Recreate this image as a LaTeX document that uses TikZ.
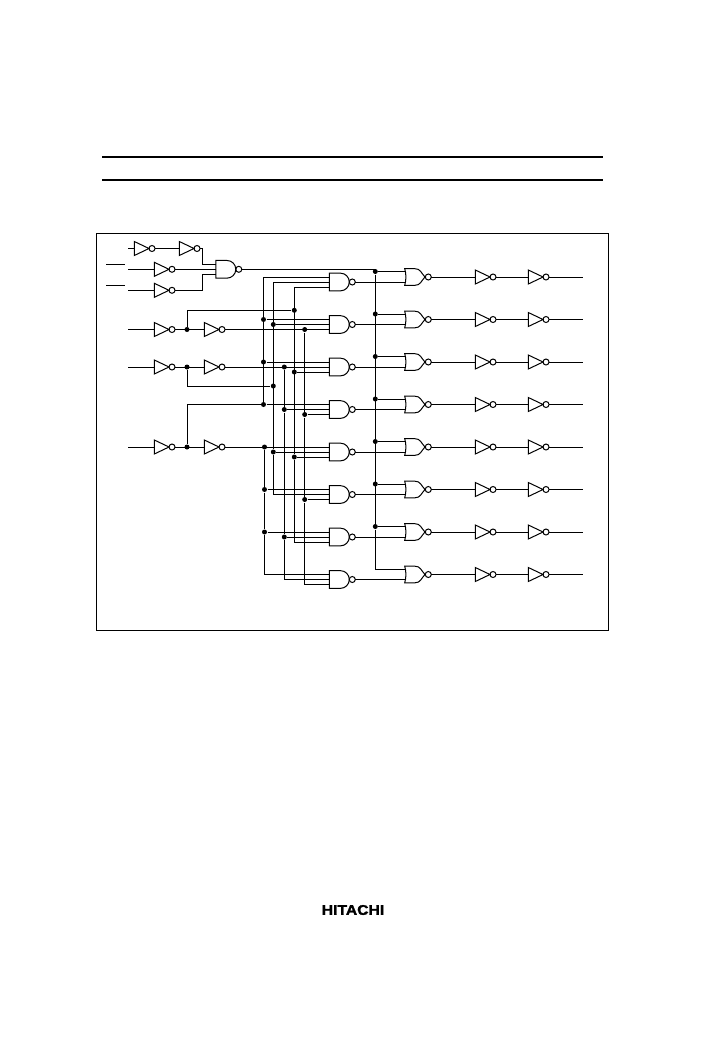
\documentclass[tikz,border=0pt]{standalone}
\usepackage{fontspec}
\setmainfont{Liberation Sans}
\newfontface\logofont[FakeBold=1.6]{Liberation Sans Bold}
\tikzset{
  gatebox/.style={rectangle,inner sep=0pt,outer sep=0pt,anchor=west},
  invgate/.style={gatebox,minimum width=20.7pt,minimum height=14pt,
    append after command={\pgfextra{
      \draw (\tikzlastnode.north west) -- ([xshift=14.7pt]\tikzlastnode.west) -- (\tikzlastnode.south west) -- cycle;
      \draw ([xshift=-3pt]\tikzlastnode.east) circle[radius=3pt];
    }}},
  nandgate/.style={gatebox,minimum width=26pt,minimum height=17.7pt,
    append after command={\pgfextra{
      \draw (\tikzlastnode.south west) -- (\tikzlastnode.north west) -- ++(11.15pt,0pt)
        arc[start angle=90,end angle=-90,radius=8.85pt] -- cycle;
      \draw ([xshift=-3pt]\tikzlastnode.east) circle[radius=3pt];
    }}},
  norgate/.style={gatebox,minimum width=26.6pt,minimum height=16.7pt,
    append after command={\pgfextra{
      \draw (\tikzlastnode.north west) -- ++(10pt,0pt)
        .. controls +(6pt,0pt) and +(-4pt,4pt) .. ([xshift=-6.3pt]\tikzlastnode.east)
        .. controls +(-4pt,-4pt) and +(6pt,0pt) .. ([xshift=10pt]\tikzlastnode.south west)
        -- (\tikzlastnode.south west)
        .. controls +(1.6pt,5pt) and +(1.6pt,-5pt) .. (\tikzlastnode.north west) -- cycle;
      \draw ([xshift=-3pt]\tikzlastnode.east) circle[radius=3pt];
    }}},
  dot/.style={circle,fill=black,inner sep=0pt,minimum size=5pt},
  rulebar/.style={line width=1.6pt},
  upper/.style={yshift=5pt},
  lower/.style={yshift=-5pt},
  trunkup/.style={yshift=5.5pt},
  norup/.style={xshift=1.2pt,yshift=5.5pt},
  nordown/.style={xshift=1.2pt,yshift=-5pt}
}
\begin{document}
\begin{tikzpicture}[x=1pt,y=-1pt,line width=1pt]
\useasboundingbox (0,0) rectangle (705,1060);

% Page rules and frame
\coordinate (ruleAl) at (102,157); \coordinate (ruleAr) at (603,157);
\coordinate (ruleBl) at (102,180); \coordinate (ruleBr) at (603,180);
\draw[rulebar] (ruleAl) -- (ruleAr);
\draw[rulebar] (ruleBl) -- (ruleBr);
\draw (96,233.5) rectangle (608.5,630.5);
\node[font=\fontsize{14}{14}\logofont] (logo) at (353,910) {\scalebox{1.12}[1]{HITACHI}};

% Input inverters
\node[invgate] (inTa) at (134.3,248.5) {};
\node[invgate] (inTb) at (179.3,248.5) {};
\node[invgate] (inU) at (154.3,269.3) {};
\node[invgate] (inV) at (154.3,290.3) {};
\node[invgate] (inAa) at (154.3,329.5) {};
\node[invgate] (inAb) at (204.3,329.5) {};
\node[invgate] (inBa) at (154.3,367) {};
\node[invgate] (inBb) at (204.3,367) {};
\node[invgate] (inCa) at (154.3,447) {};
\node[invgate] (inCb) at (204.3,447) {};

% Enable gate
\node[nandgate] (enable) at (215.8,269.3) {};

% Decoder gates
\node[nandgate] (nandA) at (329.3,282) {};
\node[nandgate] (nandB) at (329.3,324.5) {};
\node[nandgate] (nandC) at (329.3,367) {};
\node[nandgate] (nandD) at (329.3,409.5) {};
\node[nandgate] (nandE) at (329.3,452) {};
\node[nandgate] (nandF) at (329.3,494.5) {};
\node[nandgate] (nandG) at (329.3,537) {};
\node[nandgate] (nandH) at (329.3,579.5) {};

% Output gates
\node[norgate] (norA) at (404.7,277) {};
\node[norgate] (norB) at (404.7,319.5) {};
\node[norgate] (norC) at (404.7,362) {};
\node[norgate] (norD) at (404.7,404.5) {};
\node[norgate] (norE) at (404.7,447) {};
\node[norgate] (norF) at (404.7,489.5) {};
\node[norgate] (norG) at (404.7,532) {};
\node[norgate] (norH) at (404.7,574.5) {};

% Output buffers
\node[invgate] (bufAa) at (475.3,277) {};  \node[invgate] (bufAb) at (528.3,277) {};
\node[invgate] (bufBa) at (475.3,319.5) {}; \node[invgate] (bufBb) at (528.3,319.5) {};
\node[invgate] (bufCa) at (475.3,362) {};  \node[invgate] (bufCb) at (528.3,362) {};
\node[invgate] (bufDa) at (475.3,404.5) {}; \node[invgate] (bufDb) at (528.3,404.5) {};
\node[invgate] (bufEa) at (475.3,447) {};  \node[invgate] (bufEb) at (528.3,447) {};
\node[invgate] (bufFa) at (475.3,489.5) {}; \node[invgate] (bufFb) at (528.3,489.5) {};
\node[invgate] (bufGa) at (475.3,532) {};  \node[invgate] (bufGb) at (528.3,532) {};
\node[invgate] (bufHa) at (475.3,574.5) {}; \node[invgate] (bufHb) at (528.3,574.5) {};

% Bus positions
\coordinate (busP) at (263.5,0);
\coordinate (busQ) at (264.5,0);
\coordinate (busR) at (273.3,0);
\coordinate (busS) at (284.3,0);
\coordinate (busT) at (294.3,0);
\coordinate (busU) at (304.7,0);
\coordinate (busV) at (187,0);
\coordinate (busW) at (375.3,0);

% Input pins and overbars
\coordinate (pinT) at (128.3,248.5);
\coordinate (pinU) at (128.3,269.3);
\coordinate (pinV) at (128.3,290.3);
\coordinate (pinA) at (128.3,329.5);
\coordinate (pinB) at (128.3,367);
\coordinate (pinC) at (128.3,447);
\coordinate (barUl) at (106,264); \coordinate (barUr) at (125,264);
\coordinate (barVl) at (106,285); \coordinate (barVr) at (125,285);
\draw (barUl) -- (barUr);
\draw (barVl) -- (barVr);
\draw (pinT) -- (inTa.west);
\draw (pinU) -- (inU.west);
\draw (pinV) -- (inV.west);
\draw (pinA) -- (inAa.west);
\draw (pinB) -- (inBa.west);
\draw (pinC) -- (inCa.west);

% Enable logic
\draw (inTa.east) -- (inTb.west);
\draw (inTb.east) -- ++(2.6,0) |- ([upper]enable.west);
\draw (inU.east) -- (enable.west);
\draw (inV.east) -- ++(27.3,0) |- ([lower]enable.west);

% True and complement lines
\node[dot] (jAn) at (inAa.east -| busV) {};
\node[dot] (jBn) at (inBa.east -| busV) {};
\node[dot] (jCn) at (inCa.east -| busV) {};
\draw (inAa.east) -- (inAb.west);
\draw (inBa.east) -- (inBb.west);
\draw (inCa.east) -- (inCb.west);

% Junctions on the bus lines
\node[dot] (jTa) at (294.3,310.3) {};
\node[dot] (jRa) at (273.3,386) {};
\node[dot] (jPd) at ([upper]nandD.west -| busP) {};
\draw (jAn) |- (jTa);
\draw (jBn) |- (jRa);
\draw (jCn) |- (jPd);

\node[dot] (jPb) at ([upper]nandB.west -| busP) {};
\node[dot] (jRb) at (nandB.west -| busR) {};
\node[dot] (jUb) at ([lower]nandB.west -| busU) {};
\node[dot] (jPc) at ([upper]nandC.west -| busP) {};
\node[dot] (jSc) at (nandC.west -| busS) {};
\node[dot] (jTc) at ([lower]nandC.west -| busT) {};
\node[dot] (jSd) at (nandD.west -| busS) {};
\node[dot] (jUd) at ([lower]nandD.west -| busU) {};
\node[dot] (jQe) at ([upper]nandE.west -| busQ) {};
\node[dot] (jRe) at (nandE.west -| busR) {};
\node[dot] (jTe) at ([lower]nandE.west -| busT) {};
\node[dot] (jQf) at ([upper]nandF.west -| busQ) {};
\node[dot] (jUf) at ([lower]nandF.west -| busU) {};
\node[dot] (jQg) at ([upper]nandG.west -| busQ) {};
\node[dot] (jSg) at (nandG.west -| busS) {};

% Bus lines, each with the gate that ends it
\draw ([upper]nandA.west) -| (jPd);
\draw (nandA.west) -| (jRe);
\draw (jRe) |- (nandF.west);
\draw ([lower]nandA.west) -| (jTe);
\draw (jTe) |- ([lower]nandG.west);
\draw (jSc) -- (jSd) -- (jSg) |- (nandH.west);
\draw (jUb) -- (jUd) -- (jUf) |- ([lower]nandH.west);
\draw (jQe) -- (jQf) -- (jQg) |- ([upper]nandH.west);

% Gate inputs from the bus lines
\draw (inAb.east) -- ([lower]nandB.west);
\draw (inBb.east) -- (nandC.west);
\draw (inCb.east) -- ([upper]nandE.west);
\draw (jPb) -- ([upper]nandB.west);
\draw (jRb) -- (nandB.west);
\draw (jPc) -- ([upper]nandC.west);
\draw (jTc) -- ([lower]nandC.west);
\draw (jPd) -- ([upper]nandD.west);
\draw (jSd) -- (nandD.west);
\draw (jUd) -- ([lower]nandD.west);
\draw (jRe) -- (nandE.west);
\draw (jTe) -- ([lower]nandE.west);
\draw (jQf) -- ([upper]nandF.west);
\draw (jUf) -- ([lower]nandF.west);
\draw (jQg) -- ([upper]nandG.west);
\draw (jSg) -- (nandG.west);

% Enable trunk
\node[dot] (jWa) at ([trunkup]norA.west -| busW) {};
\node[dot] (jWb) at ([trunkup]norB.west -| busW) {};
\node[dot] (jWc) at ([trunkup]norC.west -| busW) {};
\node[dot] (jWd) at ([trunkup]norD.west -| busW) {};
\node[dot] (jWe) at ([trunkup]norE.west -| busW) {};
\node[dot] (jWf) at ([trunkup]norF.west -| busW) {};
\node[dot] (jWg) at ([trunkup]norG.west -| busW) {};
\draw (enable.east) -| (jWa);
\draw (jWa) -- ([norup]norA.west);
\draw (jWb) -- ([norup]norB.west);
\draw (jWc) -- ([norup]norC.west);
\draw (jWd) -- ([norup]norD.west);
\draw (jWe) -- ([norup]norE.west);
\draw (jWf) -- ([norup]norF.west);
\draw (jWg) -- ([norup]norG.west);
\draw (jWa) -- (jWg) |- ([norup]norH.west);

% Decoder to output gates
\draw (nandA.east) -- ([nordown]norA.west);
\draw (nandB.east) -- ([nordown]norB.west);
\draw (nandC.east) -- ([nordown]norC.west);
\draw (nandD.east) -- ([nordown]norD.west);
\draw (nandE.east) -- ([nordown]norE.west);
\draw (nandF.east) -- ([nordown]norF.west);
\draw (nandG.east) -- ([nordown]norG.west);
\draw (nandH.east) -- ([nordown]norH.west);

% Output chains
\coordinate (outA) at (582.7,277);
\coordinate (outB) at (582.7,319.5);
\coordinate (outC) at (582.7,362);
\coordinate (outD) at (582.7,404.5);
\coordinate (outE) at (582.7,447);
\coordinate (outF) at (582.7,489.5);
\coordinate (outG) at (582.7,532);
\coordinate (outH) at (582.7,574.5);
\draw (norA.east) -- (bufAa.west); \draw (bufAa.east) -- (bufAb.west); \draw (bufAb.east) -- (outA);
\draw (norB.east) -- (bufBa.west); \draw (bufBa.east) -- (bufBb.west); \draw (bufBb.east) -- (outB);
\draw (norC.east) -- (bufCa.west); \draw (bufCa.east) -- (bufCb.west); \draw (bufCb.east) -- (outC);
\draw (norD.east) -- (bufDa.west); \draw (bufDa.east) -- (bufDb.west); \draw (bufDb.east) -- (outD);
\draw (norE.east) -- (bufEa.west); \draw (bufEa.east) -- (bufEb.west); \draw (bufEb.east) -- (outE);
\draw (norF.east) -- (bufFa.west); \draw (bufFa.east) -- (bufFb.west); \draw (bufFb.east) -- (outF);
\draw (norG.east) -- (bufGa.west); \draw (bufGa.east) -- (bufGb.west); \draw (bufGb.east) -- (outG);
\draw (norH.east) -- (bufHa.west); \draw (bufHa.east) -- (bufHb.west); \draw (bufHb.east) -- (outH);
\end{tikzpicture}
\end{document}
